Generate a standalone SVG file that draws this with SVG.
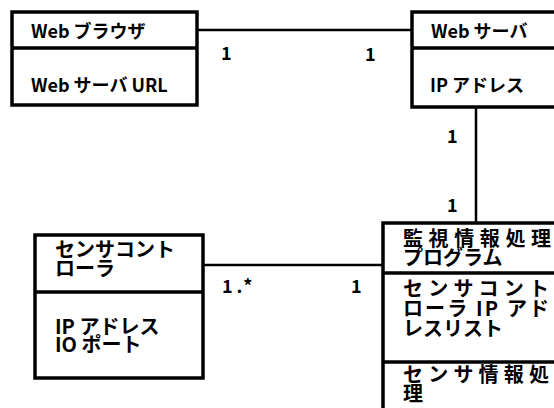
<svg xmlns="http://www.w3.org/2000/svg" width="554" height="408" viewBox="0 0 554 408">
<style>
.box{fill:#fff;stroke:#000;stroke-width:3.5}
.div{stroke:#000;stroke-width:3.5}
.ln{stroke:#000;stroke-width:2.5;fill:none}
text{font-family:"Noto Sans CJK JP","Noto Sans",sans-serif;font-weight:bold;fill:#000}
.t{font-size:18px}
.t3{font-size:20px}
.t4{font-size:20px}
.m{font-size:18px}
</style>
<rect width="554" height="408" fill="#fff"/>
<g id="connectors">
<line class="ln" x1="197" y1="30" x2="412" y2="30"/>
<line class="ln" x1="476" y1="107" x2="476" y2="223"/>
<line class="ln" x1="203" y1="265" x2="383" y2="265"/>
<text class="m" x="221" y="60">1</text>
<text class="m" x="365" y="61">1</text>
<text class="m" x="447" y="143">1</text>
<text class="m" x="447" y="212">1</text>
<text class="m" x="222" y="293" letter-spacing="4">1.*</text>
<text class="m" x="351" y="293">1</text>
</g>
<g id="web-browser">
<rect class="box" x="12" y="12" width="185" height="93"/>
<line class="div" x1="12" y1="48" x2="197" y2="48"/>
<text class="t" x="31" y="38">Web ブラウザ</text>
<text class="t" x="31" y="92">Web サーバ URL</text>
</g>
<g id="web-server">
<rect class="box" x="412" y="12" width="160" height="95"/>
<line class="div" x1="412" y1="48" x2="572" y2="48"/>
<text class="t" x="431" y="38">Web サーバ</text>
<text class="t" x="430" y="92">IP アドレス</text>
</g>
<g id="sensor-controller">
<rect class="box" x="35" y="235" width="168" height="143"/>
<line class="div" x1="35" y1="292" x2="203" y2="292"/>
<text class="t3" x="55" y="257">センサコント</text>
<text class="t3" x="55" y="276">ローラ</text>
<text class="t3" x="55" y="334">IP アドレス</text>
<text class="t3" x="55" y="352">IO ポート</text>
</g>
<g id="monitor-program">
<rect class="box" x="383" y="223" width="180" height="200"/>
<line class="div" x1="383" y1="273" x2="563" y2="273"/>
<line class="div" x1="383" y1="362" x2="563" y2="362"/>
<text class="t4" x="403" y="246" textLength="148" lengthAdjust="spacing">監視情報処理</text>
<text class="t4" x="403" y="265">プログラム</text>
<text class="t4" x="403" y="296" textLength="146" lengthAdjust="spacing">センサコント</text>
<text class="t4" x="403" y="316" textLength="146" lengthAdjust="spacing">ローラ IP アド</text>
<text class="t4" x="403" y="336">レスリスト</text>
<text class="t4" x="403" y="382" textLength="146" lengthAdjust="spacing">センサ情報処</text>
<text class="t4" x="403" y="401">理</text>
</g>
</svg>
